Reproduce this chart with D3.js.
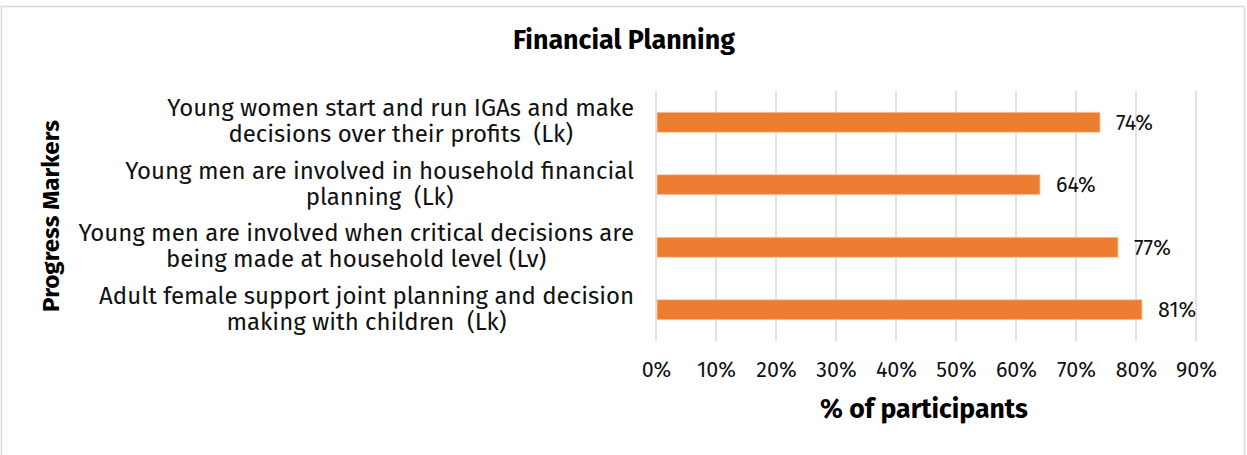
<!DOCTYPE html>
<html>
<head>
<meta charset="utf-8">
<script src="https://cdn.jsdelivr.net/npm/d3@7"></script>
<style>
  body { margin: 0; background: #fff; }
  text { font-family: "Fira Sans", "Noto Sans", sans-serif; white-space: pre; }
</style>
</head>
<body>
<div class="chart"></div>
<script>
// categories top to bottom, each as its wrapped lines
const categories = [
    ["Young women start and run IGAs and make", "decisions over their profits  (Lk)"],
    ["Young men are involved in household financial", "planning  (Lk)"],
    ["Young men are involved when critical decisions are", "being made at household level (Lv)"],
    ["Adult female support joint planning and decision", "making with children  (Lk)"]
];
const values = [0.74, 0.64, 0.77, 0.81];
const xTicks = [0, 0.1, 0.2, 0.3, 0.4, 0.5, 0.6, 0.7, 0.8, 0.9];

const title = "Financial Planning";
const xTitle = "% of participants";
const yTitle = "Progress Markers";

function chart() {
    const W = 1247, H = 455;
    const margin = { top: 91, right: 51, bottom: 114, left: 656 };
    const width = W - margin.left - margin.right,
        height = H - margin.top - margin.bottom;

    const root = d3.select(".chart")
        .append("svg")
        .attr("width", W)
        .attr("height", H);

    // outer frame
    root.append("rect")
        .attr("x", 1.5)
        .attr("y", 6.5)
        .attr("width", 1243)
        .attr("height", 470)
        .attr("fill", "#fff")
        .attr("stroke", "#d9d9d9")
        .attr("stroke-width", 1.5);

    // pick a font size so a sample string fills a given width
    function fitSize(str, weight, target) {
        const t = root.append("text")
            .attr("font-size", 20)
            .attr("font-weight", weight)
            .text(str);
        const w = t.node().getComputedTextLength();
        t.remove();
        return 20 * target / w;
    }

    const labelSize = fitSize(categories[2][0], "normal", 556);
    const tickSize = fitSize("90%", "normal", 41);

    const svg = root.append("g")
        .attr("transform", `translate(${margin.left},${margin.top})`);

    const x = d3.scaleLinear()
        .domain([0, 0.9])
        .range([0, width]);

    const y = d3.scaleBand()
        .domain(d3.range(categories.length))
        .range([0, height])
        .paddingInner(0.68)
        .paddingOuter(0.34);

    const xAxis = d3.axisBottom(x)
        .tickValues(xTicks)
        .tickFormat(d3.format(".0%"))
        .tickSize(0)
        .tickPadding(21);

    const xg = svg.append("g")
        .attr("class", "axis x-axis")
        .attr("transform", `translate(0, ${height})`)
        .call(xAxis);
    xg.select(".domain").remove();
    xg.attr("font-family", null).attr("font-size", tickSize);
    xg.selectAll(".tick text")
        .attr("fill", "#111");

    // vertical gridlines
    svg.append("g")
        .selectAll("line")
        .data(xTicks)
        .enter()
        .append("line")
        .attr("x1", d => x(d))
        .attr("x2", d => x(d))
        .attr("y1", 0)
        .attr("y2", height)
        .attr("stroke", "#d9d9d9")
        .attr("stroke-width", 1.5);

    svg.selectAll(".bar")
        .data(values)
        .enter()
        .append("rect")
        .attr("class", "bar")
        .attr("x", x(0) + 1)
        .attr("y", (d, i) => y(i))
        .attr("width", d => x(d) - x(0) - 1)
        .attr("height", y.bandwidth())
        .attr("fill", "#ed7d31")
        .attr("stroke", "#f8cbad")
        .attr("stroke-width", 0.8);

    svg.selectAll(".val")
        .data(values)
        .enter()
        .append("text")
        .attr("class", "val")
        .text(d => d3.format(".0%")(d))
        .attr("x", d => x(d) + 16)
        .attr("y", (d, i) => y(i) + y.bandwidth() / 2)
        .attr("dy", "0.35em")
        .attr("font-size", tickSize)
        .attr("fill", "#111");

    // category labels: lines centred, block right aligned
    const lineGap = 26;
    const labels = svg.selectAll(".cat")
        .data(categories)
        .enter()
        .append("text")
        .attr("class", "cat")
        .attr("font-size", labelSize)
        .attr("fill", "#111")
        .attr("text-anchor", "middle");

    labels.each(function(lines, i) {
        const t = d3.select(this);
        const cy = y(i) + y.bandwidth() / 2 - 1.5;
        lines.forEach((ln, j) => {
            t.append("tspan")
                .attr("y", cy + (j - (lines.length - 1) / 2) * lineGap)
                .attr("dy", "0.35em")
                .text(ln);
        });
        const bw = d3.max(t.selectAll("tspan").nodes(), n => n.getComputedTextLength());
        t.selectAll("tspan").attr("x", -22 - bw / 2);
    });

    root.append("text")
        .text(title)
        .attr("x", 624)
        .attr("y", 49)
        .attr("text-anchor", "middle")
        .attr("font-weight", "bold")
        .attr("font-size", fitSize(title, "bold", 222))
        .attr("fill", "#000");

    root.append("text")
        .text(xTitle)
        .attr("x", 924)
        .attr("y", 418)
        .attr("text-anchor", "middle")
        .attr("font-weight", "bold")
        .attr("font-size", fitSize(xTitle, "bold", 208))
        .attr("fill", "#000");

    root.append("text")
        .text(yTitle)
        .attr("transform", "translate(59, 216) rotate(-90)")
        .attr("text-anchor", "middle")
        .attr("font-weight", "bold")
        .attr("font-size", fitSize(yTitle, "bold", 192))
        .attr("fill", "#000");
}
chart();
</script>
</body>
</html>
